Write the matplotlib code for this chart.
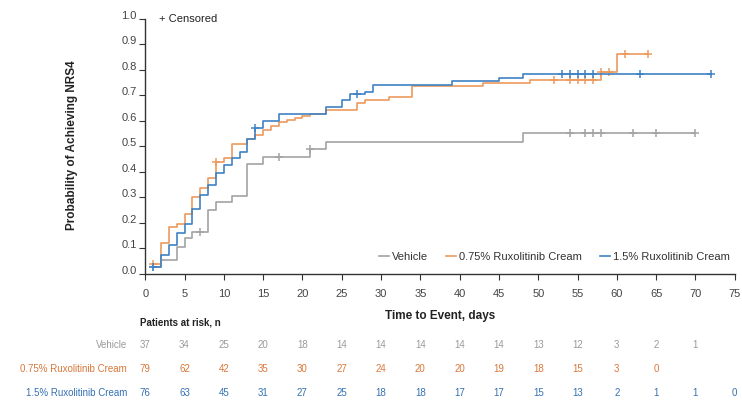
import matplotlib
matplotlib.use("Agg")
import matplotlib.pyplot as plt
import matplotlib.transforms as mtransforms
import numpy as np

plt.rcParams['font.family'] = ['Liberation Sans', 'DejaVu Sans']

# Kaplan-Meier style step data (day, cumulative probability)
days_vehicle = [1, 2, 4, 5, 6, 8, 9, 11, 13, 15, 21, 23, 48, 70]
prob_vehicle = [0.027, 0.055, 0.107, 0.14, 0.166, 0.251, 0.284, 0.306, 0.43,
                0.457, 0.489, 0.519, 0.554, 0.554]
cens_vehicle = [1, 7, 17, 21, 54, 56, 57, 58, 62, 65, 70]

days_075 = [1, 2, 3, 4, 5, 6, 7, 8, 9, 10, 11, 13, 14, 15, 16, 17, 18, 19, 20,
            21, 23, 27, 28, 31, 34, 43, 49, 58, 60, 64]
prob_075 = [0.04, 0.12, 0.183, 0.196, 0.234, 0.30, 0.336, 0.375, 0.44, 0.454,
            0.51, 0.528, 0.545, 0.565, 0.58, 0.597, 0.604, 0.613, 0.62, 0.627,
            0.643, 0.669, 0.682, 0.695, 0.737, 0.748, 0.762, 0.794, 0.864, 0.864]
cens_075 = [1, 9, 52, 54, 55, 56, 57, 58, 59, 61, 64]

days_15 = [1, 2, 3, 4, 5, 6, 7, 8, 9, 10, 11, 12, 13, 14, 15, 17, 23, 25, 26,
           28, 29, 39, 45, 48, 72]
prob_15 = [0.029, 0.075, 0.114, 0.16, 0.196, 0.254, 0.31, 0.349, 0.395, 0.427,
           0.454, 0.48, 0.53, 0.574, 0.601, 0.627, 0.654, 0.682, 0.705, 0.712,
           0.741, 0.755, 0.77, 0.785, 0.785]
cens_15 = [1, 14, 27, 53, 54, 55, 56, 57, 63, 72]

# patients at risk table
risk_days = list(range(0, 80, 5))
risk_vehicle = [37, 34, 25, 20, 18, 14, 14, 14, 14, 14, 13, 12, 3, 2, 1]
risk_075 = [79, 62, 42, 35, 30, 27, 24, 20, 20, 19, 18, 15, 3, 0]
risk_15 = [76, 63, 45, 31, 27, 25, 18, 18, 17, 17, 15, 13, 2, 1, 1, 0]

groups = [
    ("Vehicle", days_vehicle, prob_vehicle, cens_vehicle, risk_vehicle, '#a3a3a3', '#9a9a9a'),
    ("0.75% Ruxolitinib Cream", days_075, prob_075, cens_075, risk_075, '#ec9a5e', '#d9783a'),
    ("1.5% Ruxolitinib Cream", days_15, prob_15, cens_15, risk_15, '#3f82c4', '#3471b3'),
]

fig = plt.figure(figsize=(7.42, 4.01), dpi=100)
ax = fig.add_axes([0.1957, 0.3167, 0.7945, 0.636])

for name, d, p, c, r, col, tcol in groups:
    ax.step(d, p, where='post', color=col, lw=1.2, label=name)
    # censor marks sit on the step curve
    idx = np.searchsorted(d, c, side='right') - 1
    cy = np.array(p)[idx]
    ax.plot(c, cy, linestyle='none', marker='+', color=col, ms=6, mew=1.1)

ax.set_xlim(0, 75)
ax.set_ylim(0, 1.0)
ax.set_xticks(np.arange(0, 80, 5))
ax.set_yticks(np.arange(0, 1.01, 0.1))
ax.set_yticklabels([f"{v:.1f}" for v in np.arange(0, 1.01, 0.1)])
for s in ['top', 'right']:
    ax.spines[s].set_visible(False)
for s in ['left', 'bottom']:
    ax.spines[s].set_color('#333333')
    ax.spines[s].set_linewidth(1.0)
ax.tick_params(axis='both', direction='out', length=4, color='#333333',
               labelsize=8, labelcolor='#444444')
ax.tick_params(axis='x', pad=7)
ax.tick_params(axis='y', pad=2)
for lab in ax.get_yticklabels():
    lab.set_transform(lab.get_transform() +
                      mtransforms.ScaledTranslation(0, 3 / 72, fig.dpi_scale_trans))

ax.set_xlabel("Time to Event, days", fontsize=8.5, fontweight='bold', color='#222222')
ax.xaxis.set_label_coords(0.5, -0.143)
ax.set_ylabel("Probability of Achieving NRS4", fontsize=8.5, fontweight='bold',
              color='#222222')
ax.yaxis.set_label_coords(-0.114, 0.506)

ax.text(1.8, 1.0, "+ Censored", fontsize=8, color='#222222', va='center')

leg = ax.legend(loc='lower right', bbox_to_anchor=(1.0, 0.03), ncol=3,
                frameon=False, fontsize=8, handlelength=0.9, handletextpad=0.3,
                columnspacing=1.6, borderaxespad=0)
for t in leg.get_texts():
    t.set_color('#333333')

# risk table below the axis
trans = mtransforms.blended_transform_factory(ax.transData, ax.transAxes)
ax.text(-0.7, -0.192, "Patients at risk, n", transform=trans, fontsize=7,
        fontweight='bold', color='#222222', va='center', ha='left')
row_y = [-0.278, -0.373, -0.467]
for (name, d, p, c, r, col, tcol), yy in zip(groups, row_y):
    ax.text(-2.3, yy, name, transform=trans, fontsize=7, color=tcol,
            ha='right', va='center', clip_on=False)
    for xd, n in zip(risk_days, r):
        ax.text(xd, yy, str(n), transform=trans, fontsize=7, color=tcol,
                ha='center', va='center', clip_on=False)

fig.savefig("out.png", dpi=100)
